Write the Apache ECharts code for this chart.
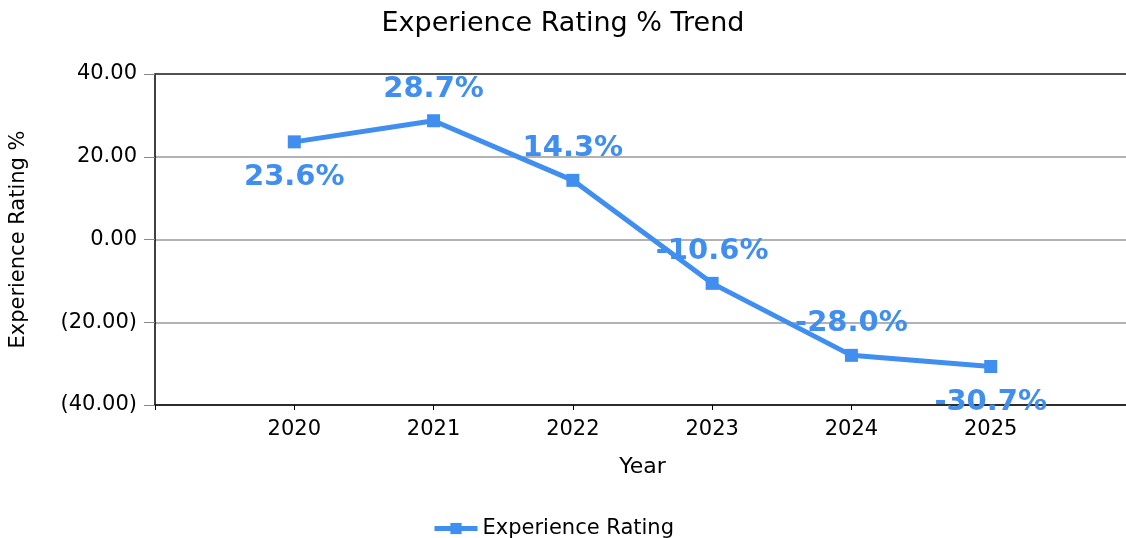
<!DOCTYPE html>
<html>
<head>
<meta charset="utf-8">
<title>Experience Rating % Trend</title>
<script src="https://cdn.jsdelivr.net/npm/echarts@6/dist/echarts.min.js"></script>
<style>
  html, body { margin: 0; padding: 0; background: #fff; }
  #main { width: 1126px; height: 538px; }
</style>
</head>
<body>
<div id="main"></div>
<script>
  // data
  var years = [2020, 2021, 2022, 2023, 2024, 2025];
  var ratings = [23.6, 28.7, 14.3, -10.6, -28.0, -30.7];
  var yTicks = [-40, -20, 0, 20, 40];

  var blue = '#3f8ef0';
  var font = 'DejaVu Sans';

  function fmtAxis(v) {
    var s = Math.abs(v).toFixed(2);
    return v < 0 ? '(' + s + ')' : s;
  }

  var lineData = ratings.map(function (v, i) { return [years[i], v]; });

  // labels below the point for first and last, above for the rest
  var labelData = ratings.map(function (v, i) {
    var below = (i === 0 || i === ratings.length - 1);
    return {
      value: [years[i], v],
      label: { position: below ? 'bottom' : 'top', distance: below ? 20 : 16 }
    };
  });

  var myChart = echarts.init(document.getElementById('main'));

  var option = {
    animation: false,
    title: {
      text: 'Experience Rating % Trend',
      left: 'center',
      top: 5,
      textStyle: { fontFamily: font, fontSize: 27, fontWeight: 'normal', color: '#000' }
    },
    legend: {
      bottom: -6,
      left: 427,
      itemWidth: 43,
      itemHeight: 14,
      itemGap: 10,
      lineStyle: { width: 5 },
      textStyle: { fontFamily: font, fontSize: 21, color: '#000' },
      data: ['Experience Rating']
    },
    grid: { left: 155, width: 975, top: 74, bottom: 133, outerBoundsMode: 'none', containLabel: false },
    xAxis: [{
      type: 'value',
      min: years[0] - 1,
      max: years[years.length - 1] + 1,
      interval: 1,
      name: 'Year',
      nameLocation: 'middle',
      nameGap: 51,
      nameTextStyle: { fontFamily: font, fontSize: 22, color: '#000' },
      axisLine: { onZero: false, lineStyle: { color: '#000', width: 1.5 } },
      axisTick: { length: 5, lineStyle: { color: '#000' } },
      splitLine: { show: false },
      axisLabel: {
        fontFamily: font, fontSize: 21, color: '#000', margin: 14,
        formatter: function (v) { return years.indexOf(v) >= 0 ? String(v) : ''; }
      }
    }, {
      type: 'value',
      position: 'top',
      min: years[0] - 1,
      max: years[years.length - 1] + 1,
      axisLine: { show: true, onZero: false, lineStyle: { color: '#333', width: 1.5 } },
      axisTick: { show: false },
      axisLabel: { show: false },
      splitLine: { show: false }
    }],
    yAxis: {
      type: 'value',
      min: yTicks[0],
      max: yTicks[yTicks.length - 1],
      interval: 20,
      name: 'Experience Rating %',
      nameLocation: 'middle',
      nameGap: 126,
      nameTextStyle: { fontFamily: font, fontSize: 21, color: '#000' },
      axisLine: { show: true, lineStyle: { color: '#000', width: 1.5 } },
      axisTick: { show: true, length: 11, lineStyle: { color: '#888' } },
      splitLine: { lineStyle: { color: '#999', width: 1.5 } },
      axisLabel: {
        fontFamily: font, fontSize: 21, color: '#000', margin: 18,
        formatter: fmtAxis
      }
    },
    series: [{
      // labels only, drawn under the line
      name: 'labels',
      type: 'line',
      z: 1,
      data: labelData,
      symbol: 'rect',
      symbolSize: 2,
      showSymbol: true,
      itemStyle: { color: 'rgba(0,0,0,0)' },
      lineStyle: { opacity: 0 },
      silent: true,
      label: {
        show: true,
        fontFamily: font,
        fontSize: 29,
        fontWeight: 'bold',
        color: blue,
        formatter: function (p) { return p.value[1].toFixed(1) + '%'; }
      }
    }, {
      name: 'Experience Rating',
      type: 'line',
      z: 5,
      data: lineData,
      symbol: 'rect',
      symbolSize: 13,
      itemStyle: { color: blue },
      lineStyle: { color: blue, width: 5 }
    }]
  };

  myChart.setOption(option);
</script>
</body>
</html>
